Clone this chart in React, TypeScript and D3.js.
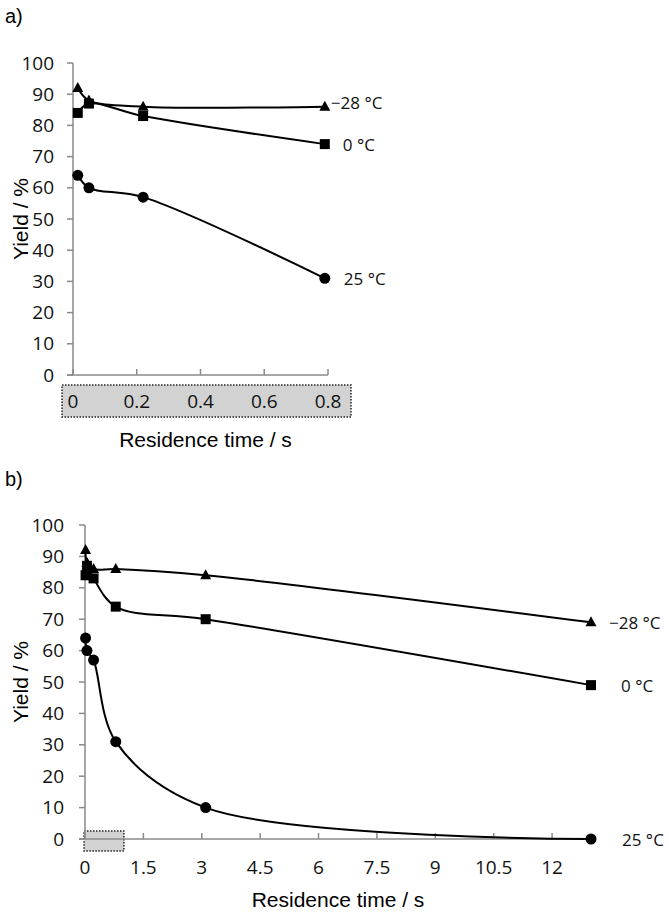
import React from 'react';
import * as d3 from 'd3';

// residence times (s) and yields (%)
const timesA = [0.015, 0.05, 0.22, 0.79];
const timesB = [0.015, 0.05, 0.22, 0.79, 3.1, 13];
const yieldM28 = [92, 88, 86, 86, 84, 69];
const yield0 = [84, 87, 83, 74, 70, 49];
const yield25 = [64, 60, 57, 31, 10, 0];
const seriesLabels = ['\u221228 \u00b0C', '0 \u00b0C', '25 \u00b0C'];
const seriesMarkers = ['triangle', 'square', 'circle'];
const yTicks = d3.range(0, 101, 10);
const xTicksA = [0, 0.2, 0.4, 0.6, 0.8];
const xTicksB = [0, 1.5, 3, 4.5, 6, 7.5, 9, 10.5, 12];

const AXIS = '#8a8a8a';
const TICK_FONT = "'Open Sans', 'Noto Sans', sans-serif";
const TITLE_FONT = "'Liberation Sans', Arial, sans-serif";
// label nudges per series (the −28 label sits closer to its marker)
const labelShift = [-12, 0, 1];

const Marker = ({ type, x, y }) => {
  if (type === 'triangle') {
    return <path d={`M${x},${y - 6}L${x + 5.5},${y + 4}L${x - 5.5},${y + 4}Z`} fill="#000" />;
  }
  if (type === 'square') {
    return <rect x={x - 5} y={y - 5} width={10} height={10} fill="#000" />;
  }
  return <circle cx={x} cy={y} r={5.5} fill="#000" />;
};

const Panel = ({ tag, tagY, times, x, y, xTicks, labelDx, labelDy, yLabelX, titleY, titleDx, xLabelY, box }) => {
  const series = [yieldM28, yield0, yield25].map(s => s.slice(0, times.length));
  const line = d3.line()
    .x(d => x(d[0]))
    .y(d => y(d[1]))
    .curve(d3.curveCatmullRom.alpha(0.5));
  const [x0, x1] = x.range();
  const [yb, yt] = y.range();
  return (
    <g>
      <text x={5} y={tagY} fontFamily={TITLE_FONT} fontSize={20}>{tag}</text>
      {box}
      {/* y axis */}
      <line x1={x0} x2={x0} y1={yt} y2={yb} stroke={AXIS} strokeWidth={1.5} />
      {yTicks.map(t => (
        <g key={t}>
          <line x1={x0 - 6} x2={x0} y1={y(t)} y2={y(t)} stroke={AXIS} strokeWidth={1.5} />
          <text x={yLabelX} y={y(t)} dy="0.35em" textAnchor="end" fontFamily={TICK_FONT} fontSize={19} fill="#111">{t}</text>
        </g>
      ))}
      {/* x axis */}
      <line x1={x0 - 6} x2={x1} y1={yb} y2={yb} stroke={AXIS} strokeWidth={1.5} />
      {xTicks.map(t => (
        <g key={t}>
          <line x1={x(t)} x2={x(t)} y1={yb} y2={yb - 6} stroke={AXIS} strokeWidth={1.5} />
          <text x={x(t)} y={xLabelY} textAnchor="middle" fontFamily={TICK_FONT} fontSize={19} fill="#111">{t}</text>
        </g>
      ))}
      <text transform={`translate(${21},${(yt + yb) / 2}) rotate(-90)`} textAnchor="middle" dy="0.35em" fontFamily={TITLE_FONT} fontSize={21}>Yield / %</text>
      <text x={(x0 + x1) / 2 + titleDx} y={titleY} textAnchor="middle" fontFamily={TITLE_FONT} fontSize={21}>Residence time / s</text>
      {series.map((s, i) => {
        const pts = s.map((v, j) => [times[j], v]);
        const last = pts[pts.length - 1];
        return (
          <g key={i}>
            <path d={line(pts)} fill="none" stroke="#000" strokeWidth={2} />
            {pts.map((p, j) => <Marker key={j} type={seriesMarkers[i]} x={x(p[0])} y={y(p[1])} />)}
            <text x={x(last[0]) + labelDx + labelShift[i]} y={y(last[1]) + (i === 0 ? labelDy : 1)} dy="0.35em"
              fontFamily={TICK_FONT} fontSize={17} fill="#111">{seriesLabels[i]}</text>
          </g>
        );
      })}
    </g>
  );
};

export default function App() {
  const xA = d3.scaleLinear().domain([0, 0.8]).range([73, 328]);
  const yA = d3.scaleLinear().domain([0, 100]).range([375, 63]);
  const xB = d3.scaleLinear().domain([0, 13]).range([85, 591]);
  const yB = d3.scaleLinear().domain([0, 100]).range([839, 525]);

  const boxA = (
    <rect x={xA(0) - 11} y={yA(0) + 10} width={xA(0.8) - xA(0) + 34} height={32}
      fill="#d2d2d2" stroke="#222" strokeWidth={1.5} strokeDasharray="1.5,1.5" />
  );
  const boxB = (
    <rect x={xB(0) - 1} y={yB(0) - 8} width={xB(1) - xB(0) + 1} height={20}
      fill="#d2d2d2" stroke="#222" strokeWidth={1.5} strokeDasharray="1.5,1.5" />
  );

  return (
    <svg width={669} height={914} style={{ position: 'absolute', left: 0, top: 0, background: '#fff' }}>
      <rect width={669} height={914} fill="#fff" />
      <Panel tag="a)" tagY={23} times={timesA} x={xA} y={yA} xTicks={xTicksA}
        labelDx={18} labelDy={-4} yLabelX={54} titleY={447} titleDx={5} xLabelY={408}
        box={boxA} />
      <Panel tag="b)" tagY={486} times={timesB} x={xB} y={yB} xTicks={xTicksB}
        labelDx={30} labelDy={1} yLabelX={64} titleY={907} titleDx={0} xLabelY={874}
        box={boxB} />
    </svg>
  );
}
